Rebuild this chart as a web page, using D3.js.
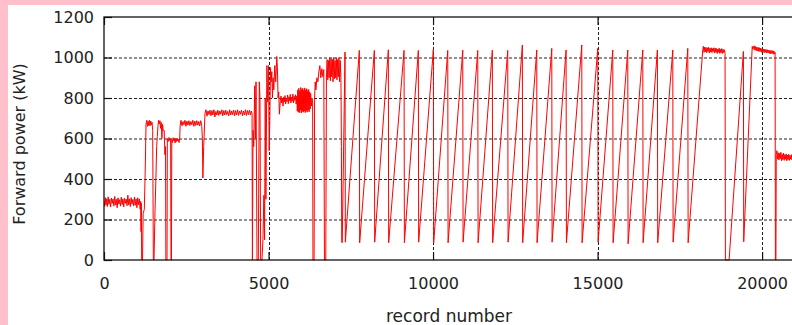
<!DOCTYPE html>
<html>
<head>
<meta charset="utf-8">
<script src="https://cdn.jsdelivr.net/npm/d3@7"></script>
<style>
  html, body { margin: 0; padding: 0; background: #ffc0cb; }
  svg { display: block; }
  text { font-family: "DejaVu Sans", sans-serif; fill: #222; }
</style>
</head>
<body>
<svg id="plot" width="792" height="325"></svg>
<script>
// Tick values
const xTicks = [0, 5000, 10000, 15000, 20000];
const yTicks = [0, 200, 400, 600, 800, 1000, 1200];

// record number / forward power (kW)
const warmupRun = [
  [0,290],[20,265],[40,308],[60,272],[80,302],[100,264],[125,312],[150,275],[175,300],[200,262],
  [225,306],[250,280],[275,302],[300,266],[325,314],[350,272],[375,300],[400,258],[425,307],[450,276],
  [475,298],[500,266],[525,310],[550,274],[575,302],[600,262],[625,305],[650,280],[675,300],[700,268],
  [725,320],[750,272],[775,302],[800,264],[825,308],[850,276],[875,299],[900,267],[925,311],[950,270],
  [975,302],[1000,258],[1025,307],[1050,273],[1075,302],[1100,250],[1115,290],[1125,140],[1135,280],
  [1145,0],[1170,0],[1190,230],[1225,250],[1250,420],[1277,670],[1300,690],[1320,660],[1340,684],
  [1360,664],[1380,690],[1400,662],[1420,686],[1440,668],[1460,680],[1480,640],[1500,0],[1520,0],
  [1550,240],[1580,420],[1600,560],[1620,610],[1640,660],[1660,690],[1680,672],[1700,688],[1720,650],
  [1740,680],[1760,600],[1780,670],[1800,640],[1830,640],[1850,520],[1870,560],[1880,0],[1915,0],
  [1925,600],[1950,585],[1975,605],[2000,590],[2025,600],[2036,0],[2050,0],[2060,595],[2080,580],
  [2100,604],[2120,588],[2140,600],[2160,578],[2180,598],[2200,585],[2220,602],[2240,588],[2260,596],
  [2280,580],[2300,600],[2315,665],[2340,690],[2370,662],[2400,684],[2430,668],[2460,690],[2490,660],
  [2520,686],[2550,666],[2580,688],[2610,664],[2640,684],[2670,668],[2700,690],[2730,660],[2760,686],
  [2790,664],[2820,688],[2850,666],[2880,684],[2910,662],[2940,688],[2970,664],[2990,600],[3005,405],
  [3030,560],[3070,725],[3100,742],[3130,710],[3160,736],[3190,718],[3220,740],[3250,712],[3280,738],
  [3310,716],[3340,742],[3370,706],[3400,734],[3430,716],[3460,740],[3490,714],[3520,736],[3550,720],
  [3580,742],[3610,712],[3640,738],[3670,716],[3700,740],[3730,718],[3760,734],[3790,712],[3820,742],
  [3850,716],[3880,736],[3910,718],[3940,740],[3970,712],[4000,738],[4030,716],[4060,742],[4090,714],
  [4120,736],[4150,720],[4180,740],[4210,712],[4240,736],[4270,716],[4300,742],[4330,714],[4360,738],
  [4390,718],[4420,740],[4450,716],[4480,736],[4500,720],[4510,0],[4530,640],[4550,560],[4580,860],
  [4600,600],[4620,880],[4650,0],[4690,0],[4720,880],[4740,800],[4760,0],[4800,0],[4830,100],
  [4860,320],[4880,100],[4900,800],[4920,300],[4950,960],[4975,780],[5000,960],[5020,540],[5040,700],
  [5060,950],[5080,880],[5100,930],[5120,800],[5140,900],[5160,840],[5190,960],[5220,880],[5250,1005],
  [5270,950],[5290,800],[5310,830],[5330,720],[5360,790]
];

const midRun = [
  [5380,810],[5400,775],[5420,800],[5440,760],[5460,805],[5480,780],[5500,812],[5520,770],[5540,800],
  [5560,782],[5580,815],[5600,772],[5620,806],[5640,786],[5660,818],[5680,775],[5700,804],[5720,784],
  [5740,820],[5760,776],[5780,808],[5800,788],[5820,816],[5840,770],[5860,810],[5875,735],[5890,840],
  [5905,730],[5920,848],[5935,728],[5950,836],[5965,740],[5980,852],[5995,726],[6010,842],[6025,734],
  [6040,848],[6055,730],[6070,838],[6085,736],[6100,850],[6115,728],[6130,840],[6145,738],[6160,846],
  [6175,730],[6190,836],[6205,740],[6220,842],[6235,732],[6250,830],[6265,746],[6280,822],[6300,760],
  [6320,800],[6340,780],[6350,0],[6385,0],[6400,800],[6420,880],[6440,840],[6470,900],[6500,880],
  [6530,930],[6560,960],[6590,900],[6620,945],[6650,905],[6680,940],[6700,0],[6740,0],[6760,900],
  [6780,990],[6800,890],[6820,985],[6840,900],[6860,1000],[6880,885],[6900,995],[6920,905],[6940,990],
  [6960,880],[6980,1000],[7000,895],[7020,985],[7040,900],[7060,998],[7080,890],[7100,990],[7120,905],
  [7140,1000],[7160,880],[7180,985],[7200,900],[7215,560],[7225,90]
];

// saw-tooth cycles: bottom of each ramp, then top just before the drop
const sawRun = [
  [7240,85],[7325,1027],[7335,88],[7760,1035],[7770,85],[8216,1035],[8226,88],[8641,1038],
  [8651,85],[9119,1035],[9129,85],[9553,1035],[9563,88],[10009,1040],[10019,85],[10447,1035],
  [10457,85],[10903,1036],[10913,88],[11359,1035],[11369,85],[11802,1036],[11812,85],[12270,1035],
  [12280,88],[12714,1062],[12724,85],[13152,1037],[13162,85],[13608,1045],[13618,88],[14043,1037],
  [14053,85],[14520,1062],[14530,85],[15006,1045],[15016,88],[15462,1037],[15472,85],[15918,1037],
  [15928,80],[16374,1037],[16384,85],[16818,1037],[16828,85],[17286,1037],[17296,88],[17742,1045],
  [17752,85]
];

const lateRun = [
  [18198,1040],[18215,1055],[18235,1025],[18255,1052],[18275,1028],[18295,1050],[18315,1024],
  [18335,1048],[18355,1030],[18375,1050],[18395,1022],[18415,1046],[18435,1028],[18455,1048],
  [18475,1024],[18495,1044],[18515,1030],[18535,1048],[18555,1022],[18575,1046],[18595,1026],
  [18615,1044],[18635,1020],[18655,1042],[18675,1026],[18695,1046],[18715,1020],[18735,1040],
  [18755,1024],[18775,1044],[18795,1020],[18815,1040],[18835,1024],[18855,1038],[18875,1020],
  [18885,0],[18930,0],[18997,0],[19432,1030],[19442,90],[19700,1055],[19722,1040],[19740,1052],
  [19760,1058],[19780,1036],[19800,1054],[19820,1034],[19840,1052],[19860,1032],[19880,1050],
  [19900,1030],[19920,1048],[19940,1030],[19960,1046],[19980,1026],[20000,1044],[20020,1028],
  [20040,1042],[20060,1024],[20080,1040],[20100,1026],[20120,1040],[20140,1022],[20160,1038],
  [20180,1024],[20200,1036],[20220,1020],[20240,1036],[20260,1018],[20280,1034],[20300,1020],
  [20320,1034],[20340,1016],[20360,1032],[20380,1018],[20395,1025],[20405,0],[20420,0],[20430,520],
  [20450,540],[20470,498],[20490,530],[20510,494],[20530,526],[20550,500],[20570,532],[20590,490],
  [20610,522],[20630,496],[20650,528],[20670,492],[20690,520],[20710,498],[20730,524],[20750,490],
  [20770,518],[20790,496],[20810,522],[20830,492],[20850,516],[20870,498],[20890,520],[20910,494],
  [20930,518],[20950,496],[20970,516],[20990,492],[21010,514]
];

const series = [...warmupRun, ...midRun, ...sawRun, ...lateRun];

const width = 792, height = 325;
const margin = { top: 17, right: -3, bottom: 65, left: 104 };
const plotW = width - margin.left - margin.right;
const plotH = height - margin.top - margin.bottom;

const svg = d3.select('svg#plot');

// pink frame with white page inside
svg.append('rect').attr('width', width).attr('height', height).attr('fill', '#ffc0cb');
svg.append('rect').attr('x', 8).attr('y', 5).attr('width', width - 8).attr('height', height - 5).attr('fill', '#fff');

const x = d3.scaleLinear().domain([0, 21000]).range([0, plotW]);
const y = d3.scaleLinear().domain([0, 1200]).range([plotH, 0]);

const g = svg.append('g').attr('transform', `translate(${margin.left},${margin.top})`);

g.append('defs').append('clipPath').attr('id', 'clip')
  .append('rect').attr('width', plotW).attr('height', plotH + 3).attr('y', -1);

// grid lines
g.append('g').selectAll('line')
  .data(yTicks.filter(d => d > 0 && d < 1200))
  .join('line')
  .attr('x1', 0).attr('x2', plotW)
  .attr('y1', d => y(d) + 0.5).attr('y2', d => y(d) + 0.5)
  .attr('stroke', '#222').attr('stroke-width', 1).attr('stroke-dasharray', '3,2');

g.append('g').selectAll('line')
  .data(xTicks.filter(d => d > 0))
  .join('line')
  .attr('x1', d => Math.round(x(d)) + 0.5).attr('x2', d => Math.round(x(d)) + 0.5)
  .attr('y1', 0).attr('y2', plotH)
  .attr('stroke', '#222').attr('stroke-width', 1).attr('stroke-dasharray', '3,2');

// the trace
const line = d3.line().x(d => x(d[0])).y(d => y(d[1]));
g.append('path')
  .datum(series)
  .attr('clip-path', 'url(#clip)')
  .attr('fill', 'none')
  .attr('stroke', '#ff0000')
  .attr('stroke-width', 1)
  .attr('stroke-linejoin', 'round')
  .attr('d', line);

// axes: inward ticks, mirrored on the top
const fmt = d3.format('d');
const xAxis = d3.axisBottom(x).tickValues(xTicks).tickFormat(fmt).tickSize(-8).tickPadding(18);
const yAxis = d3.axisLeft(y).tickValues(yTicks).tickFormat(fmt).tickSize(-8).tickPadding(10);

const xAxisG = g.append('g').attr('transform', `translate(0,${plotH})`).call(xAxis);
const yAxisG = g.append('g').call(yAxis);
g.append('g').call(d3.axisTop(x).tickValues(xTicks).tickSize(-8).tickFormat(''));

[xAxisG, yAxisG].forEach(a => {
  a.selectAll('text').style('font-size', '16px').attr('fill', '#222');
});
g.selectAll('.domain').remove();
g.selectAll('.tick line').attr('stroke', '#111').attr('stroke-width', 1.2);

// plot frame
g.append('rect')
  .attr('width', plotW).attr('height', plotH)
  .attr('fill', 'none').attr('stroke', '#111').attr('stroke-width', 1.3);

// axis titles
svg.append('text')
  .attr('x', 449).attr('y', 322)
  .attr('text-anchor', 'middle')
  .style('font-size', '17px')
  .text('record number');

svg.append('text')
  .attr('transform', `translate(25,${144}) rotate(-90)`)
  .attr('text-anchor', 'middle')
  .style('font-size', '16px')
  .text('Forward power (kW)');
</script>
</body>
</html>
